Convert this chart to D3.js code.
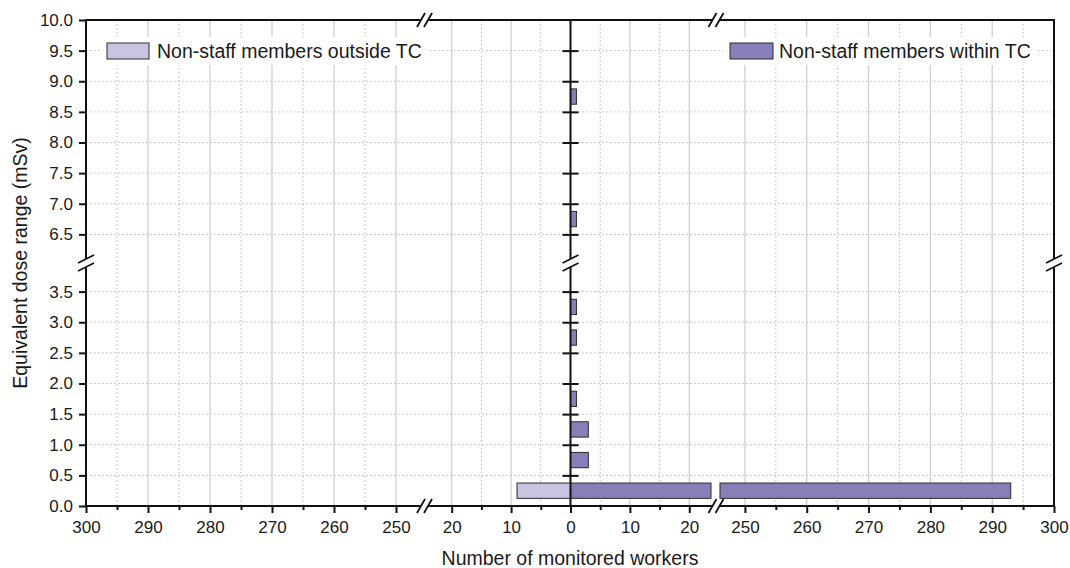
<!DOCTYPE html>
<html><head><meta charset="utf-8">
<script src="https://cdn.jsdelivr.net/npm/d3@7"></script>
<style>
body{margin:0;background:#fff}
svg{display:block}
text{font-family:"Liberation Sans",Arial,Helvetica,sans-serif;fill:#1a1a1a}
</style>
</head><body>
<svg id="chart" width="1070" height="568"></svg>
<script>
// ---------------- data ----------------
const binStart   = [0, 0.5, 1.0, 1.5, 2.0, 2.5, 3.0, 3.5, 6.0, 6.5, 7.0, 7.5, 8.0, 8.5, 9.0, 9.5];
const withinTC   = [293, 3, 3, 1, 0, 1, 1, 0, 0, 1, 0, 0, 0, 1, 0, 0];
const outsideTC  = [9, 0, 0, 0, 0, 0, 0, 0, 0, 0, 0, 0, 0, 0, 0, 0];
const seriesNames = ["Non-staff members outside TC", "Non-staff members within TC"];
const yTicksLow   = [0, 0.5, 1.0, 1.5, 2.0, 2.5, 3.0, 3.5];
const yTicksHigh  = [6.5, 7.0, 7.5, 8.0, 8.5, 9.0, 9.5, 10.0];
const xTicksOuter = [300, 290, 280, 270, 260, 250];
const xMinorOuter = [295, 285, 275, 265, 255];
const xTicksInner = [-20, -10, 0, 10, 20];
const xMinorInner = [-15, -5, 5, 15];
const xTitle = "Number of monitored workers";
const yTitle = "Equivalent dose range (mSv)";
const binWidth = 0.5;

// ---------------- layout ----------------
const L = 86, R = 1054, T = 20, B = 506;
const colOut = "#c8c4e1", colIn = "#8780b8";
const svg = d3.select("#chart");

const yLow  = d3.scaleLinear().domain([0, 4]).range([506, 261]);
const yHigh = d3.scaleLinear().domain([6, 10]).range([265, 20]);
const y = v => v < 5 ? yLow(v) : yHigh(v);
const yBreak = 263;

const xLeft  = d3.scaleLinear().domain([300, 245]).range([86, 427]);
const xMid   = d3.scaleLinear().domain([-25, 25]).range([422, 719]);
const xRight = d3.scaleLinear().domain([245, 300]).range([714, 1054]);
const xBreakL = 424.5, xBreakR = 716;
const x0 = xMid(0);

// ---------------- grid ----------------
const grid = svg.append("g");
const vMajor = [...xTicksOuter.filter(d => d !== 300).map(d => xLeft(d)),
                ...xTicksInner.filter(d => d !== 0).map(d => xMid(d)),
                ...xTicksOuter.filter(d => d !== 300).map(d => xRight(d))];
const vMinor = [...xMinorOuter.map(d => xLeft(d)), ...xMinorInner.map(d => xMid(d)), ...xMinorOuter.map(d => xRight(d))];
const hLines = [...yTicksLow.filter(d => d > 0), ...yTicksHigh.filter(d => d < 10)].map(y);

grid.selectAll(".hg").data(hLines).join("line")
  .attr("x1", L).attr("x2", R).attr("y1", d => d).attr("y2", d => d)
  .attr("stroke", "#b8b8b8").attr("stroke-width", 1).attr("stroke-dasharray", "1.5,2.5");
grid.selectAll(".vmin").data(vMinor).join("line")
  .attr("x1", d => d).attr("x2", d => d).attr("y1", T).attr("y2", B)
  .attr("stroke", "#b8b8b8").attr("stroke-width", 1).attr("stroke-dasharray", "1.5,2.5");
grid.selectAll(".vmaj").data(vMajor).join("line")
  .attr("x1", d => d).attr("x2", d => d).attr("y1", T).attr("y2", B)
  .attr("stroke", "#cfcfcf").attr("stroke-width", 1.3);

// ---------------- bars ----------------
function pieces(v, dir) {
  // dir = +1 (within, to the right) / -1 (outside, to the left)
  if (v <= 0) return [];
  const end = xMid(dir * v);
  if (dir > 0) {
    if (end <= xBreakR - 5) return [[x0, end]];
    return [[x0, xBreakR - 5], [xBreakR + 4, xRight(v)]];
  } else {
    if (end >= xBreakL + 5) return [[end, x0]];
    return [[xLeft(v), xBreakL - 4], [xBreakL + 5, x0]];
  }
}
const barData = [];
binStart.forEach((b, i) => {
  pieces(outsideTC[i], -1).forEach(p => barData.push({b, p, fill: colOut}));
  pieces(withinTC[i], 1).forEach(p => barData.push({b, p, fill: colIn}));
});
svg.append("g").selectAll("rect").data(barData).join("rect")
  .attr("x", d => d.p[0]).attr("width", d => d.p[1] - d.p[0])
  .attr("y", d => y(d.b + binWidth * 0.75)).attr("height", d => y(d.b + binWidth * 0.25) - y(d.b + binWidth * 0.75))
  .attr("fill", d => d.fill).attr("stroke", "#2a2a2a").attr("stroke-width", 1);

// ---------------- legend ----------------
const legend = [
  {name: seriesNames[0], fill: colOut, bx: 101, bw: 327, sx: 107, sw: 42, tx: 157},
  {name: seriesNames[1], fill: colIn,  bx: 725, bw: 311, sx: 730, sw: 43, tx: 779}
];
const lg = svg.append("g");
lg.selectAll(".lbg").data(legend).join("rect")
  .attr("x", d => d.bx).attr("y", 37).attr("width", d => d.bw).attr("height", 28).attr("fill", "#fff");
lg.selectAll(".lsw").data(legend).join("rect")
  .attr("x", d => d.sx).attr("y", 43).attr("width", d => d.sw).attr("height", 16)
  .attr("fill", d => d.fill).attr("stroke", "#2a2a2a").attr("stroke-width", 1);
lg.selectAll(".ltx").data(legend).join("text")
  .attr("x", d => d.tx).attr("y", 58).attr("font-size", 19.5).text(d => d.name);

// ---------------- axes ----------------
function styleAxis(g) {
  g.select(".domain").remove();
  g.selectAll(".tick line").attr("stroke", "#111").attr("stroke-width", 2);
  g.selectAll(".tick text").attr("font-size", 17).attr("fill", "#1a1a1a")
    .attr("font-family", '"Liberation Sans",Arial,sans-serif');
}
const fmtAbs = d => String(Math.abs(d));
// bottom major
[[xLeft, xTicksOuter], [xMid, xTicksInner], [xRight, xTicksOuter]].forEach(([s, tv]) => {
  svg.append("g").attr("transform", `translate(0,${B})`)
    .call(d3.axisBottom(s).tickValues(tv).tickSize(7).tickPadding(8).tickFormat(fmtAbs))
    .call(styleAxis);
});
[[xLeft, xMinorOuter], [xMid, xMinorInner], [xRight, xMinorOuter]].forEach(([s, tv]) => {
  svg.append("g").attr("transform", `translate(0,${B})`)
    .call(d3.axisBottom(s).tickValues(tv).tickSize(4).tickFormat(""))
    .call(styleAxis);
});
// left y
[[yLow, yTicksLow], [yHigh, yTicksHigh]].forEach(([s, tv]) => {
  svg.append("g").attr("transform", `translate(${L},0)`)
    .call(d3.axisLeft(s).tickValues(tv).tickSize(7).tickPadding(6).tickFormat(d3.format(".1f")))
    .call(styleAxis);
});
// center cross ticks
[[yLow, yTicksLow.filter(d => d > 0)], [yHigh, yTicksHigh.filter(d => d < 10)]].forEach(([s, tv]) => {
  svg.append("g").attr("transform", `translate(${x0},0)`)
    .call(d3.axisLeft(s).tickValues(tv).tickSize(8).tickFormat("")).call(styleAxis);
  svg.append("g").attr("transform", `translate(${x0},0)`)
    .call(d3.axisRight(s).tickValues(tv).tickSize(8).tickFormat("")).call(styleAxis);
});

// frame lines
const frame = svg.append("g").attr("stroke", "#111").attr("stroke-width", 2).attr("fill", "none");
frame.append("line").attr("x1", L - 1).attr("x2", R + 1).attr("y1", T).attr("y2", T);
frame.append("line").attr("x1", L - 1).attr("x2", R + 1).attr("y1", B).attr("y2", B);
frame.append("line").attr("x1", L).attr("x2", L).attr("y1", T).attr("y2", B);
frame.append("line").attr("x1", R).attr("x2", R).attr("y1", T).attr("y2", B);
frame.append("line").attr("x1", x0).attr("x2", x0).attr("y1", T).attr("y2", B);

// break marks
const brk = svg.append("g");
function hBreak(xb, yy) {
  brk.append("rect").attr("x", xb - 3.5).attr("y", yy - 3).attr("width", 7).attr("height", 6).attr("fill", "#fff");
  [-3.5, 3.5].forEach(o => {
    brk.append("line").attr("x1", xb + o - 4).attr("y1", yy + 7).attr("x2", xb + o + 4).attr("y2", yy - 7)
      .attr("stroke", "#111").attr("stroke-width", 1.8);
  });
}
function vBreak(xx, yb) {
  brk.append("rect").attr("x", xx - 3).attr("y", yb - 4).attr("width", 6).attr("height", 8).attr("fill", "#fff");
  [-4, 4].forEach(o => {
    brk.append("line").attr("x1", xx - 8).attr("y1", yb + o + 4).attr("x2", xx + 8).attr("y2", yb + o - 4)
      .attr("stroke", "#111").attr("stroke-width", 1.8);
  });
}
[xBreakL, xBreakR].forEach(xb => { hBreak(xb, T); hBreak(xb, B); });
[L, x0, R].forEach(xx => vBreak(xx, yBreak));

// titles
svg.append("text").attr("x", (L + R) / 2).attr("y", 565).attr("text-anchor", "middle")
  .attr("font-size", 19.5).text(xTitle);
svg.append("text").attr("transform", `translate(27,${(T + B) / 2}) rotate(-90)`)
  .attr("text-anchor", "middle").attr("font-size", 19.5).text(yTitle);
</script>
</body></html>
